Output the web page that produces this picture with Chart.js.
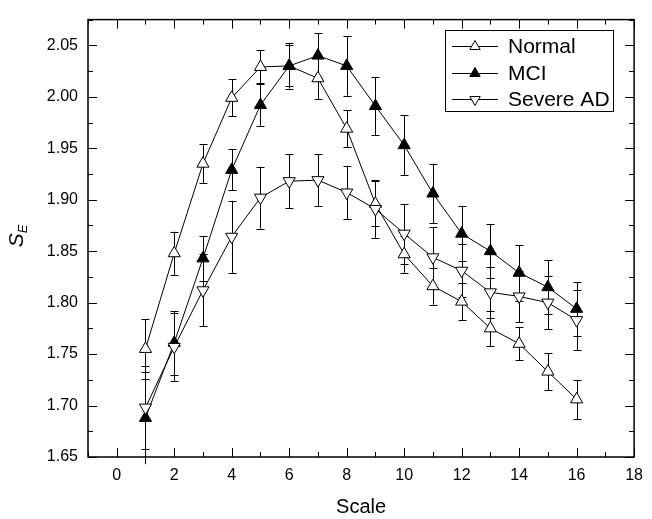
<!DOCTYPE html>
<html>
<head>
<meta charset="utf-8">
<script src="https://cdn.jsdelivr.net/npm/chart.js@4.4.1/dist/chart.umd.min.js"></script>
<style>
  html, body { margin: 0; padding: 0; background: #fff; }
  #wrap { width: 652px; height: 519px; }
</style>
</head>
<body>
<div id="wrap"><canvas id="seChart" width="652" height="519"></canvas></div>
<script>
// ==========================================
// S_E vs Scale (Normal / MCI / Severe AD)
// ==========================================

const scaleValues = [1, 2, 3, 4, 5, 6, 7, 8, 9, 10, 11, 12, 13, 14, 15, 16];

const normalMean = [1.755, 1.848, 1.935, 1.999, 2.029, 2.030, 2.018, 1.969, 1.896, 1.847, 1.816, 1.801, 1.775, 1.760, 1.733, 1.706];
const normalErr = [0.029, 0.021, 0.019, 0.018, 0.016, 0.020, 0.020, 0.018, 0.022, 0.018, 0.018, 0.018, 0.017, 0.016, 0.018, 0.019];

const mciMean = [1.688, 1.761, 1.843, 1.929, 1.992, 2.030, 2.040, 2.030, 1.991, 1.953, 1.906, 1.867, 1.850, 1.829, 1.815, 1.794];
const mciErr = [0.045, 0.031, 0.022, 0.020, 0.020, 0.022, 0.022, 0.029, 0.028, 0.029, 0.029, 0.027, 0.026, 0.027, 0.026, 0.026];

const severeMean = [1.698, 1.757, 1.812, 1.864, 1.902, 1.918, 1.919, 1.907, 1.891, 1.867, 1.844, 1.831, 1.810, 1.806, 1.800, 1.783];
const severeErr = [0.040, 0.033, 0.035, 0.035, 0.030, 0.026, 0.025, 0.026, 0.028, 0.029, 0.029, 0.026, 0.025, 0.025, 0.026, 0.029];

const xTickLabels = [0, 2, 4, 6, 8, 10, 12, 14, 16, 18];
const yTickLabels = [1.65, 1.70, 1.75, 1.80, 1.85, 1.90, 1.95, 2.00, 2.05];

const FONT = "'Liberation Sans', Arial, Helvetica, sans-serif";

function toPoints(means) {
  return scaleValues.map(function (x, i) {
    return { x: x, y: means[i] };
  });
}

function series(label, means, errs, fill, rotation, order) {
  return {
    label: label,
    data: toPoints(means),
    errors: errs,
    showLine: true,
    borderColor: '#000',
    borderWidth: 1,
    pointStyle: 'triangle',
    pointRadius: 7,
    pointHoverRadius: 7,
    pointRotation: rotation,
    pointBackgroundColor: fill,
    pointBorderColor: '#000',
    pointBorderWidth: 1,
    order: order,
    clip: false,
  };
}

// error bars, drawn under the markers
const errorBarPlugin = {
  id: 'errorBars',
  beforeDatasetsDraw(chart) {
    const ctx = chart.ctx;
    const xs = chart.scales.x;
    const ys = chart.scales.y;
    ctx.save();
    ctx.strokeStyle = '#000';
    ctx.lineWidth = 1;
    chart.data.datasets.forEach(function (ds) {
      ds.data.forEach(function (p, i) {
        const e = ds.errors[i];
        const px = Math.round(xs.getPixelForValue(p.x)) + 0.5;
        const top = ys.getPixelForValue(p.y + e);
        const bot = ys.getPixelForValue(p.y - e);
        ctx.beginPath();
        ctx.moveTo(px, top);
        ctx.lineTo(px, bot);
        ctx.moveTo(px - 4, Math.round(top) + 0.5);
        ctx.lineTo(px + 4, Math.round(top) + 0.5);
        if (p.y - e >= ys.min) {
          ctx.moveTo(px - 4, Math.round(bot) + 0.5);
          ctx.lineTo(px + 4, Math.round(bot) + 0.5);
        }
        ctx.stroke();
      });
    });
    ctx.restore();
  },
};

// frame, inward ticks, y title, legend
const framePlugin = {
  id: 'frame',
  afterDraw(chart) {
    const ctx = chart.ctx;
    const a = chart.chartArea;
    const xs = chart.scales.x;
    const ys = chart.scales.y;
    ctx.save();
    ctx.strokeStyle = '#000';
    ctx.lineWidth = 1.5;
    ctx.strokeRect(a.left, a.top, a.right - a.left, a.bottom - a.top);

    ctx.lineWidth = 1;
    ctx.beginPath();
    for (let v = -1; v <= 18; v++) {
      const len = v % 2 === 0 ? 9 : 5;
      const px = Math.round(xs.getPixelForValue(v)) + 0.5;
      ctx.moveTo(px, a.bottom);
      ctx.lineTo(px, a.bottom - len);
      ctx.moveTo(px, a.top);
      ctx.lineTo(px, a.top + len);
    }
    for (let k = 0; k <= 17; k++) {
      const v = 1.65 + k * 0.025;
      if (v > ys.max) break;
      const len = k % 2 === 0 ? 9 : 5;
      const py = Math.round(ys.getPixelForValue(v)) + 0.5;
      ctx.moveTo(a.left, py);
      ctx.lineTo(a.left + len, py);
      ctx.moveTo(a.right, py);
      ctx.lineTo(a.right - len, py);
    }
    ctx.stroke();

    // y axis title S_E
    ctx.fillStyle = '#000';
    ctx.translate(23, 236);
    ctx.rotate(-Math.PI / 2);
    ctx.textBaseline = 'alphabetic';
    ctx.textAlign = 'left';
    ctx.font = 'italic 21px ' + FONT;
    const sw = ctx.measureText('S').width;
    ctx.font = 'italic 13px ' + FONT;
    const ew = ctx.measureText('E').width;
    const start = -(sw + ew) / 2;
    ctx.font = 'italic 21px ' + FONT;
    ctx.fillText('S', start, 0);
    ctx.font = 'italic 13px ' + FONT;
    ctx.fillText('E', start + sw, 4);
    ctx.restore();

    // legend
    ctx.save();
    ctx.strokeStyle = '#000';
    ctx.lineWidth = 1;
    ctx.strokeRect(445.5, 30.5, 168, 81);
    const rows = [46.5, 73.5, 99.5];
    chart.data.datasets.forEach(function (ds, i) {
      const y = rows[i];
      ctx.beginPath();
      ctx.moveTo(452, y);
      ctx.lineTo(498, y);
      ctx.stroke();
      ctx.fillStyle = ds.pointBackgroundColor;
      ctx.strokeStyle = '#000';
      Chart.helpers.drawPoint(ctx, {
        pointStyle: 'triangle',
        radius: 6,
        rotation: ds.pointRotation,
        borderWidth: 1,
      }, 475, y);
      ctx.fillStyle = '#000';
      ctx.font = '21px ' + FONT;
      ctx.textBaseline = 'middle';
      ctx.textAlign = 'left';
      ctx.fillText(ds.label, 508, y + 1);
    });
    ctx.restore();
  },
};

const seData = {
  datasets: [
    series('Normal', normalMean, normalErr, '#fff', 0, 3),
    series('MCI', mciMean, mciErr, '#000', 0, 2),
    series('Severe AD', severeMean, severeErr, '#fff', 180, 1),
  ],
};

const seConfig = {
  type: 'scatter',
  data: seData,
  options: {
    responsive: false,
    animation: false,
    events: [],
    layout: {
      padding: { left: 0, right: 10, top: 9, bottom: 0 },
    },
    plugins: {
      legend: { display: false },
      tooltip: { enabled: false },
      title: { display: false },
    },
    scales: {
      x: {
        type: 'linear',
        min: -1,
        max: 18,
        grid: { display: false, drawTicks: false },
        border: { display: false },
        afterBuildTicks: function (scale) {
          scale.ticks = xTickLabels.map(function (v) { return { value: v }; });
        },
        afterFit: function (scale) {
          scale.height = 62;
        },
        ticks: {
          color: '#000',
          padding: 9,
          maxRotation: 0,
          autoSkip: false,
          font: { family: FONT, size: 16 },
        },
        title: {
          display: true,
          text: 'Scale',
          color: '#000',
          padding: { top: 6, bottom: 0 },
          font: { family: FONT, size: 20 },
        },
      },
      y: {
        type: 'linear',
        min: 1.65,
        max: 2.075,
        grid: { display: false, drawTicks: false },
        border: { display: false },
        afterBuildTicks: function (scale) {
          scale.ticks = yTickLabels.map(function (v) { return { value: v }; });
        },
        afterFit: function (scale) {
          scale.width = 88;
        },
        ticks: {
          color: '#000',
          padding: 10,
          autoSkip: false,
          font: { family: FONT, size: 16 },
          callback: function (v) {
            return Number(v).toFixed(2);
          },
        },
      },
    },
  },
  plugins: [errorBarPlugin, framePlugin],
};

const seChart = new Chart(document.getElementById('seChart'), seConfig);
</script>
</body>
</html>
